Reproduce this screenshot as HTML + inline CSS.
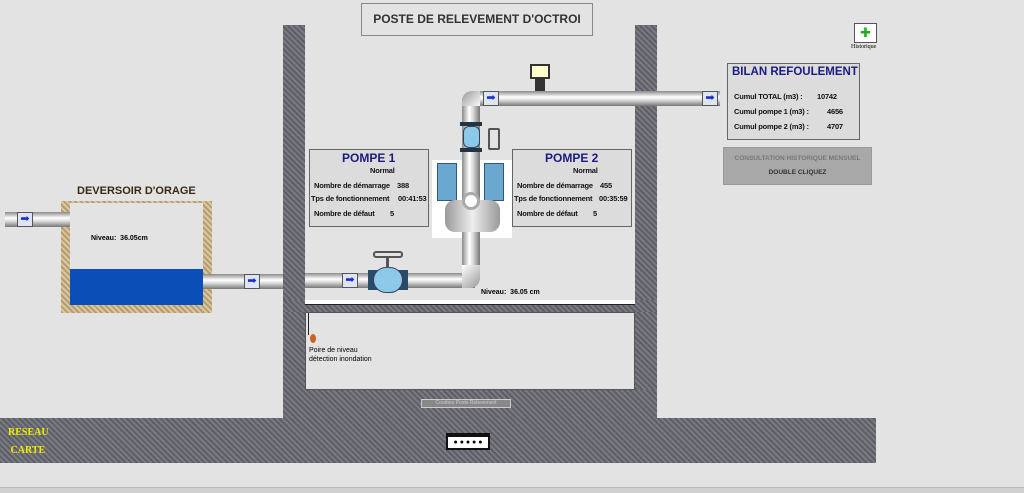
<!DOCTYPE html>
<html><head><meta charset="utf-8"><style>
body{margin:0;width:1024px;height:493px;background:#e3e3e3;position:relative;overflow:hidden;font-family:"Liberation Sans",sans-serif}
div{position:absolute;box-sizing:border-box;white-space:nowrap}
.wall{background:#6b6b73;background-image:repeating-linear-gradient(45deg,#5e5e66 0 2px,#7a7a82 2px 4px)}
.ph{background:linear-gradient(#8a8a8a,#fff 40%,#ddd 60%,#777)}
.pv{background:linear-gradient(90deg,#8a8a8a,#fff 40%,#ddd 60%,#777)}
.arr{width:16px;height:15px;background:#dfe4f2;border:1px solid #555;color:#1a2ed0;font-size:11px;line-height:13px;text-align:center}
.box{background:#dcdcdc;border:1px solid #666;font-size:7.5px;font-weight:bold;color:#111;letter-spacing:-0.2px}
.sand{background:#c9b48a;background-image:repeating-linear-gradient(45deg,#b59d70 0 2px,#d8c7a0 2px 4px)}
</style></head><body>
<div style="left:361px;top:3px;width:232px;height:33px;border:1px solid #888;font-size:12px;font-weight:bold;color:#333;text-align:center;line-height:31px">POSTE DE RELEVEMENT D'OCTROI</div>
<div class="wall" style="left:283px;top:25px;width:22px;height:393px"></div>
<div class="wall" style="left:635px;top:25px;width:22px;height:393px"></div>
<div class="wall" style="left:283px;top:300px;width:374px;height:12px"></div>
<div style="left:305px;top:300px;width:330px;height:5px;background:#fff;border-bottom:1px solid #222"></div>
<div class="wall" style="left:283px;top:390px;width:374px;height:28px"></div>
<div style="left:305px;top:312px;width:330px;height:78px;background:#e3e3e3;border:1px solid #555"></div>
<div style="left:421px;top:399px;width:90px;height:9px;background:#888;border:1px solid #ccc;font-size:5px;color:#ccc;text-align:center">Courbes Poste Relevement</div>
<div style="left:309px;top:346px;font-size:7px;line-height:9px;white-space:normal">Poire de niveau<br>détection inondation</div>
<div style="left:308px;top:313px;width:1px;height:22px;background:#222"></div>
<div style="left:310px;top:334px;width:6px;height:9px;border-radius:50%;background:#d06020"></div>
<div class="wall" style="left:0;top:418px;width:876px;height:45px"></div>
<div style="left:8px;top:424px;color:#ee0;font-family:'Liberation Serif',serif;font-size:10px;font-weight:bold;line-height:18px">RESEAU<br>&nbsp;CARTE</div>
<div style="left:446px;top:433px;width:44px;height:17px;background:#fff;border:2px solid #111;border-top-width:4px;font-size:7px;text-align:center;line-height:11px">● ● ● ● ●</div>
<div style="left:0;top:487px;width:1024px;height:6px;background:#d0d0d0;border-top:1px solid #bbb"></div>
<!-- deversoir -->
<div style="left:77px;top:185px;font-size:11px;font-weight:bold;color:#3a2a10">DEVERSOIR D'ORAGE</div>
<div class="sand" style="left:61px;top:201px;width:151px;height:112px"></div>
<div style="left:70px;top:203px;width:133px;height:102px;background:#e3e3e3"></div>
<div style="left:70px;top:269px;width:133px;height:36px;background:#0a4fb8"></div>
<div style="left:91px;top:235px;font-size:7px;font-weight:bold">Niveau:&nbsp; 36.05cm</div>
<div class="ph" style="left:5px;top:212px;width:65px;height:15px"></div>
<div class="arr" style="left:17px;top:212px">➡</div>
<div class="ph" style="left:203px;top:274px;width:80px;height:15px"></div>
<div class="arr" style="left:244px;top:274px">➡</div>
<!-- main pipe -->
<div class="ph" style="left:305px;top:273px;width:170px;height:15px"></div>
<div class="arr" style="left:342px;top:273px">➡</div>
<div style="left:368px;top:270px;width:40px;height:20px;background:#2a4a6a"></div>
<div style="left:373px;top:267px;width:30px;height:26px;border-radius:13px;background:#8cc8e8;border:1px solid #345"></div>
<div style="left:386px;top:258px;width:3px;height:10px;background:#555"></div>
<div style="left:373px;top:251px;width:30px;height:7px;border:2px solid #555;border-radius:3px"></div>
<div class="pv" style="left:462px;top:98px;width:18px;height:180px"></div>
<div style="left:462px;top:265px;width:18px;height:23px;background:linear-gradient(135deg,#fff,#999);border-radius:0 0 10px 0"></div>
<div style="left:462px;top:91px;width:20px;height:15px;background:linear-gradient(135deg,#999,#fff);border-radius:10px 0 0 0"></div>
<div class="ph" style="left:480px;top:91px;width:240px;height:15px"></div>
<div class="arr" style="left:483px;top:91px">➡</div>
<div class="arr" style="left:702px;top:91px">➡</div>
<div style="left:530px;top:64px;width:20px;height:15px;background:#ffc;border:2px solid #333"></div>
<div style="left:535px;top:79px;width:10px;height:12px;background:#333"></div>
<div style="left:460px;top:122px;width:22px;height:4px;background:#234"></div>
<div style="left:460px;top:148px;width:22px;height:4px;background:#234"></div>
<div style="left:463px;top:126px;width:17px;height:22px;background:#8cc8e8;border:1px solid #345;border-radius:6px"></div>
<div style="left:488px;top:128px;width:12px;height:22px;border:2px solid #555;border-radius:2px"></div>
<div style="left:432px;top:160px;width:80px;height:78px;background:#fff"></div>
<div class="pv" style="left:462px;top:160px;width:18px;height:78px"></div>
<div style="left:437px;top:163px;width:20px;height:38px;background:#6aa8d0;border:1px solid #357"></div>
<div style="left:484px;top:163px;width:20px;height:38px;background:#6aa8d0;border:1px solid #357"></div>
<div style="left:445px;top:200px;width:55px;height:32px;border-radius:10px;background:linear-gradient(90deg,#999,#eee,#999)"></div>
<div style="left:462px;top:192px;width:18px;height:18px;border-radius:50%;background:#fff;border:3px solid #aaa"></div>
<div style="left:481px;top:289px;font-size:7px;font-weight:bold">Niveau:&nbsp; 36.05 cm</div>
<!-- pompes -->
<div class="box" style="left:309px;top:149px;width:120px;height:78px">
<div style="left:32px;top:1px;font-size:12px;color:#1a1a80;letter-spacing:0">POMPE 1</div>
<div style="left:60px;top:16px">Normal</div>
<div style="left:4px;top:31px">Nombre de démarrage</div><div style="left:87px;top:31px">388</div>
<div style="left:1px;top:44px">Tps de fonctionnement</div><div style="left:88px;top:44px">00:41:53</div>
<div style="left:4px;top:59px">Nombre de défaut</div><div style="left:80px;top:59px">5</div></div>
<div class="box" style="left:512px;top:149px;width:120px;height:78px">
<div style="left:32px;top:1px;font-size:12px;color:#1a1a80;letter-spacing:0">POMPE 2</div>
<div style="left:60px;top:16px">Normal</div>
<div style="left:4px;top:31px">Nombre de démarrage</div><div style="left:87px;top:31px">455</div>
<div style="left:1px;top:44px">Tps de fonctionnement</div><div style="left:86px;top:44px">00:35:59</div>
<div style="left:4px;top:59px">Nombre de défaut</div><div style="left:80px;top:59px">5</div></div>
<!-- bilan -->
<div class="box" style="left:727px;top:63px;width:133px;height:77px">
<div style="left:4px;top:2px;font-size:11.5px;color:#1a1a80;letter-spacing:0">BILAN REFOULEMENT</div>
<div style="left:6px;top:28px">Cumul TOTAL (m3) :</div><div style="left:89px;top:28px">10742</div>
<div style="left:6px;top:43px">Cumul pompe 1 (m3) :</div><div style="left:99px;top:43px">4656</div>
<div style="left:6px;top:58px">Cumul pompe 2 (m3) :</div><div style="left:99px;top:58px">4707</div></div>
<div style="left:723px;top:147px;width:149px;height:38px;background:#a8a8a8;border:1px solid #999;font-size:6.5px;font-weight:bold;color:#777;text-align:center;line-height:14px;padding-top:4px">CONSULTATION HISTORIQUE MENSUEL<br><span style="color:#333">DOUBLE CLIQUEZ</span></div>
<div style="left:854px;top:23px;width:23px;height:20px;background:#fff;border:1px solid #555;color:#2a2;font-size:13px;text-align:center;line-height:18px">✚</div>
<div style="left:851px;top:44px;font-size:6px;font-family:'Liberation Serif',serif">Historique</div>
</body></html>
